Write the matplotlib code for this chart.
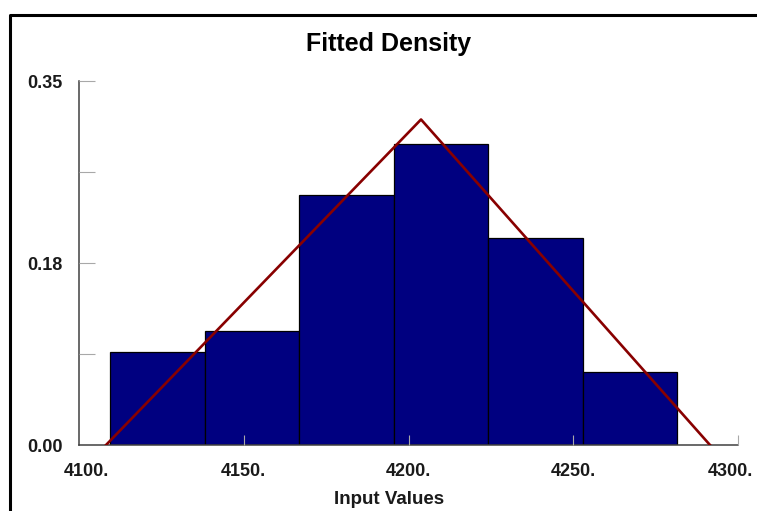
import matplotlib
matplotlib.use("Agg")
import matplotlib.pyplot as plt
import matplotlib.transforms as mtransforms
from matplotlib.lines import Line2D

#data
bin_lefts = [4109.4, 4138.1, 4166.8, 4195.5, 4224.2, 4252.9]
bin_width = 28.7
bin_heights = [0.089, 0.110, 0.240, 0.289, 0.199, 0.070]

tri_x = [4108.2, 4203.8, 4291.5]
tri_y = [0.0, 0.313, 0.0]

x_ticks = [4100, 4150, 4200, 4250, 4300]
x_labels = ["4100.", "4150.", "4200.", "4250.", "4300."]
y_ticks = [0.0, 0.175, 0.35]
y_labels = ["0.00", "0.18", "0.35"]
y_minor = [0.0875, 0.2625]

W, H = 757, 511
plt.rcParams["font.family"] = ["Liberation Sans", "DejaVu Sans"]

fig = plt.figure(figsize=(W / 100, H / 100), dpi=100)
ax = fig.add_axes([79 / W, (H - 445) / H, (738 - 79) / W, (445 - 81) / H])
ax.set_axisbelow(False)

ax.bar(bin_lefts, bin_heights, width=bin_width, align="edge",
       color="#000080", edgecolor="black", linewidth=0.9, zorder=2)
ax.plot(tri_x, tri_y, color="#880000", linewidth=1.9, zorder=3)

ax.set_xlim(4100, 4300)
ax.set_ylim(0, 0.35)

ax.set_xticks(x_ticks)
ax.set_xticklabels(x_labels, fontsize=13, fontweight="bold", color="#1a1a1a")
ax.set_yticks(y_ticks)
ax.set_yticklabels(y_labels, fontsize=13, fontweight="bold", color="#1a1a1a")
ax.set_yticks(y_minor, minor=True)

ax.tick_params(axis="x", direction="in", length=7, width=0.8, color="#a8a8a8", pad=13)
ax.tick_params(axis="y", which="both", direction="in", length=11.5, width=0.8,
               color="#a8a8a8", pad=12)

#ticks at the origin sit under the axis lines in the original
ax.yaxis.get_major_ticks()[0].tick1line.set_visible(False)
ax.xaxis.get_major_ticks()[0].tick1line.set_visible(False)

#shift the end labels inward like the original
labs = ax.get_xticklabels()
labs[0].set_transform(labs[0].get_transform() + mtransforms.ScaledTranslation(7 / 100, 0, fig.dpi_scale_trans))
labs[-1].set_transform(labs[-1].get_transform() + mtransforms.ScaledTranslation(-8 / 100, 0, fig.dpi_scale_trans))

for s in ["top", "right"]:
    ax.spines[s].set_visible(False)
for s in ["left", "bottom"]:
    ax.spines[s].set_color("#404040")
    ax.spines[s].set_linewidth(1.1)

fig.text(389 / W, 1 - 51 / H, "Fitted Density", ha="center", va="baseline",
         fontsize=18, fontweight="bold")
fig.text(389.5 / W, 1 - 504 / H, "Input Values", ha="center", va="baseline",
         fontsize=13.5, fontweight="bold", color="#1a1a1a")

#outer frame (only top and left visible)
fig.add_artist(Line2D([9.5 / W, 9.5 / W, 1.05], [-0.05, 1 - 15.5 / H, 1 - 15.5 / H],
                      transform=fig.transFigure, color="black", linewidth=2.2))

fig.savefig("out.png", dpi=100)
